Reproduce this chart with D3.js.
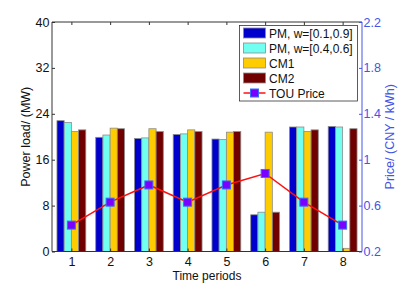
<!DOCTYPE html>
<html>
<head>
<meta charset="utf-8">
<style>
  body { margin: 0; background: #fff; }
  text { font-family: "Liberation Sans", Arial, sans-serif; }
</style>
</head>
<body>
<div id="chart"></div>
<script src="https://cdn.jsdelivr.net/npm/d3@7"></script>
<script>
var periods = [1, 2, 3, 4, 5, 6, 7, 8];
var pm1 = [22.8, 19.9, 19.7, 20.4, 19.6, 6.4, 21.7, 21.8];
var pm2 = [22.5, 20.3, 19.8, 20.5, 19.5, 6.85, 21.7, 21.7];
var cm1 = [20.9, 21.5, 21.4, 21.2, 20.8, 20.8, 20.9, 0.55];
var cm2 = [21.2, 21.4, 20.9, 20.9, 20.9, 6.85, 21.2, 21.4];
var price = [0.43, 0.63, 0.78, 0.63, 0.78, 0.88, 0.63, 0.43];
var seriesNames = ["PM, w=[0.1,0.9]", "PM, w=[0.4,0.6]", "CM1", "CM2"];
var seriesColors = ["#0000cc", "#70fff0", "#ffcc00", "#700000"];
var leftTicks = [0, 8, 16, 24, 32, 40];
var rightTicks = [0.2, 0.6, 1, 1.4, 1.8, 2.2];

var width = 399, height = 284;
var L = 52, R = 362, T = 22, B = 251.5;
var axisBlue = "#4455e6";
var fs = 12.5;

var svg = d3.select("#chart").append("svg")
    .attr("width", width).attr("height", height);

var x = d3.scaleLinear().domain([0.5, 8.5]).range([L, R]);
var y = d3.scaleLinear().domain([0, 40]).range([B, T]);
var y2 = d3.scaleLinear().domain([0.2, 2.2]).range([B, T]);

var slot = x(1) - x(0);
var bw = slot * 0.186;

// bars
var all = [pm1, pm2, cm1, cm2];
all.forEach(function (vals, k) {
  svg.append("g").selectAll("rect")
    .data(vals)
    .enter().append("rect")
    .attr("x", function (d, i) { return x(periods[i]) + (k - 2) * bw; })
    .attr("width", bw)
    .attr("y", function (d) { return y(d); })
    .attr("height", function (d) { return B - y(d); })
    .attr("fill", seriesColors[k])
    .attr("stroke", "#8c8c8c")
    .attr("stroke-width", 0.8);
});

// left axis + box
var gl = svg.append("g").attr("transform", "translate(" + L + ",0)")
  .call(d3.axisLeft(y).tickValues(leftTicks).tickSize(-3).tickPadding(2.5));
gl.select(".domain").remove();
gl.selectAll("line").attr("stroke", "#333");
gl.selectAll("text").attr("font-size", fs).attr("fill", "#111");

var gb = svg.append("g").attr("transform", "translate(0," + B + ")")
  .call(d3.axisBottom(x).tickValues(periods).tickSize(-3).tickPadding(6));
gb.select(".domain").remove();
gb.selectAll("line").attr("stroke", "#333");
gb.selectAll("text").attr("font-size", fs).attr("fill", "#111");

var gt = svg.append("g").attr("transform", "translate(0," + T + ")")
  .call(d3.axisTop(x).tickValues(periods).tickSize(-3).tickFormat(""));
gt.select(".domain").remove();
gt.selectAll("line").attr("stroke", "#333");

svg.append("line").attr("x1", L).attr("x2", L).attr("y1", T).attr("y2", B)
  .attr("stroke", "#333");
svg.append("line").attr("x1", L).attr("x2", R).attr("y1", T).attr("y2", T)
  .attr("stroke", "#333");
svg.append("line").attr("x1", L).attr("x2", R).attr("y1", B).attr("y2", B)
  .attr("stroke", "#333");

// right axis
var gr = svg.append("g").attr("transform", "translate(" + R + ",0)")
  .call(d3.axisRight(y2).tickValues(rightTicks).tickSize(-3).tickPadding(1.5)
    .tickFormat(function (d) { return d3.format("")(+d.toFixed(1)); }));
gr.select(".domain").remove();
gr.selectAll("line").attr("stroke", axisBlue);
gr.selectAll("text").attr("font-size", fs).attr("fill", axisBlue);
svg.append("line").attr("x1", R).attr("x2", R).attr("y1", T).attr("y2", B)
  .attr("stroke", axisBlue);

// price line
var line = d3.line()
  .x(function (d, i) { return x(periods[i]); })
  .y(function (d) { return y2(d); });
svg.append("path").datum(price)
  .attr("d", line).attr("fill", "none")
  .attr("stroke", "#ff1010").attr("stroke-width", 1.5);
svg.append("g").selectAll("rect")
  .data(price)
  .enter().append("rect")
  .attr("x", function (d, i) { return x(periods[i]) - 4; })
  .attr("y", function (d) { return y2(d) - 4; })
  .attr("width", 8).attr("height", 8)
  .attr("fill", "#7a00ff")
  .attr("stroke", "#3a6cff").attr("stroke-width", 1);

// axis labels
svg.append("text")
  .attr("transform", "translate(30," + ((T + B) / 2) + ") rotate(-90)")
  .attr("text-anchor", "middle").attr("font-size", fs).attr("fill", "#111")
  .text("Power load/ (MW)");
svg.append("text")
  .attr("transform", "translate(394," + ((T + B) / 2) + ") rotate(-90)")
  .attr("text-anchor", "middle").attr("font-size", fs).attr("fill", axisBlue)
  .text("Price/ (CNY / kWh)");
svg.append("text")
  .attr("x", (L + R) / 2).attr("y", 280)
  .attr("text-anchor", "middle").attr("font-size", 12).attr("fill", "#111")
  .text("Time periods");

// legend
var lg = svg.append("g");
lg.append("rect").attr("x", 239.5).attr("y", 25.5).attr("width", 118).attr("height", 75.5)
  .attr("fill", "#fff").attr("stroke", "#333").attr("stroke-width", 0.8);
seriesNames.forEach(function (name, k) {
  var cy = 33 + k * 15;
  lg.append("rect").attr("x", 243.5).attr("y", cy - 5).attr("width", 22).attr("height", 10)
    .attr("fill", seriesColors[k]).attr("stroke", "#8c8c8c").attr("stroke-width", 0.8);
  lg.append("text").attr("x", 269).attr("y", cy + 4.5)
    .attr("font-size", 12).attr("fill", "#111").text(name);
});
var cy5 = 33 + 4 * 15;
lg.append("line").attr("x1", 243.5).attr("x2", 265.5).attr("y1", cy5).attr("y2", cy5)
  .attr("stroke", "#ff1010").attr("stroke-width", 1.5);
lg.append("rect").attr("x", 250.5).attr("y", cy5 - 4).attr("width", 8).attr("height", 8)
  .attr("fill", "#7a00ff").attr("stroke", "#3a6cff");
lg.append("text").attr("x", 269).attr("y", cy5 + 4.5)
  .attr("font-size", 12).attr("fill", "#111").text("TOU Price");
</script>
</body>
</html>
